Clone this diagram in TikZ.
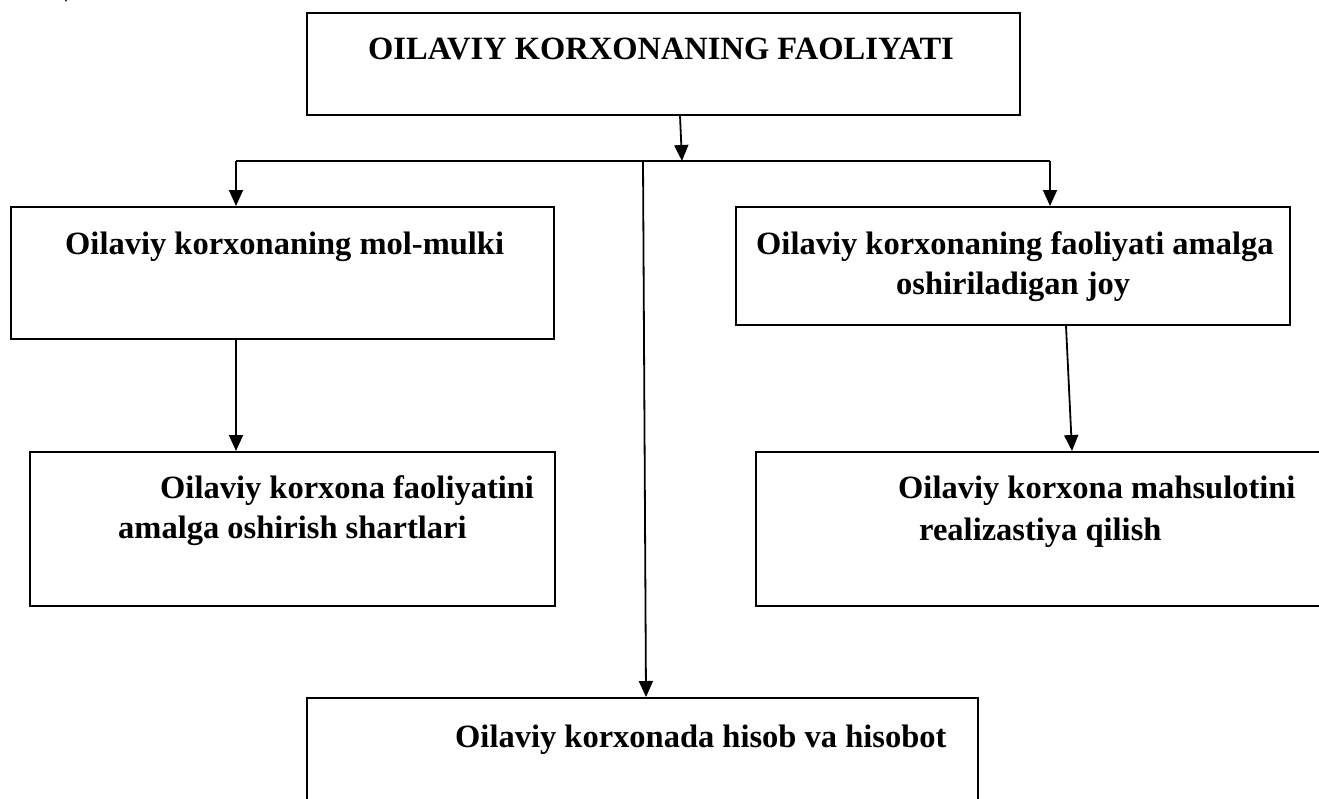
\documentclass[tikz,border=0pt]{standalone}
\usepackage{fontspec}
\setmainfont{Liberation Serif}
\usetikzlibrary{arrows.meta}
\begin{document}
\begin{tikzpicture}[x=1pt,y=-1pt,
  box/.style={draw,line width=1.7pt,rectangle,inner sep=0pt,anchor=north west},
  lbl/.style={inner sep=0pt,font=\fontsize{32.5}{38}\selectfont\bfseries},
  conn/.style={line width=1.8pt},
  arr/.style={line width=1.8pt,-{Triangle[length=16pt,width=14pt]}}]
\useasboundingbox[fill=white] (0,0) rectangle (1319,798);
\begin{scope}
\clip (0,0) rectangle (1319,798);
% boxes
\node[box,minimum width=713pt,minimum height=102pt] (top) at (306,12) {};
\node[box,minimum width=543pt,minimum height=132pt] (lb1) at (10,206) {};
\node[box,minimum width=554pt,minimum height=118pt] (rb1) at (735,206) {};
\node[box,minimum width=525pt,minimum height=154pt] (lb2) at (29,451) {};
\node[box,minimum width=620pt,minimum height=154pt] (rb2) at (755,451) {};
\node[box,minimum width=671pt,minimum height=160pt] (bot) at (306,697) {};
% texts
\node[lbl,anchor=base west] (ttl) at (368,59) {OILAVIY KORXONANING FAOLIYATI};
\node[lbl,anchor=base west] (t1) at (65,254) {Oilaviy korxonaning mol-mulki};
\node[lbl,anchor=base west] (t2a) at (756,254) {Oilaviy korxonaning faoliyati amalga};
\node[lbl,anchor=base west] (t2b) at (896,294) {oshiriladigan joy};
\node[lbl,anchor=base west] (t3a) at (160,498) {Oilaviy korxona faoliyatini};
\node[lbl,anchor=base west] (t3b) at (118,538) {amalga oshirish shartlari};
\node[lbl,anchor=base west] (t4a) at (898,498) {Oilaviy korxona mahsulotini};
\node[lbl,anchor=base west] (t4b) at (919,540) {realizastiya qilish};
\node[lbl,anchor=base west] (t5) at (455,747) {Oilaviy korxonada hisob va hisobot};
% connectors
\coordinate (j1) at (682,161);
\coordinate (hl) at (236,161);
\coordinate (hr) at (1050,161);
\coordinate (jc) at (643,161);
\coordinate (u1) at (66,-14);
\coordinate (u2) at (66,2);
\draw[arr] ([xshift=374pt]top.south west) -- (j1);
\draw[conn] (hl) -- (hr);
\draw[arr] (hl) -- (hl |- lb1.north);
\draw[arr] (hr) -- (hr |- rb1.north);
\draw[arr] (jc) -- ([xshift=340pt]bot.north west);
\draw[arr] (lb1.south -| hl) -- (lb2.north -| hl);
\draw[arr] ([xshift=331pt]rb1.south west) -- ([xshift=317pt]rb2.north west);
\draw[arr] (u1) -- (u2);
\end{scope}
\end{tikzpicture}
\end{document}
